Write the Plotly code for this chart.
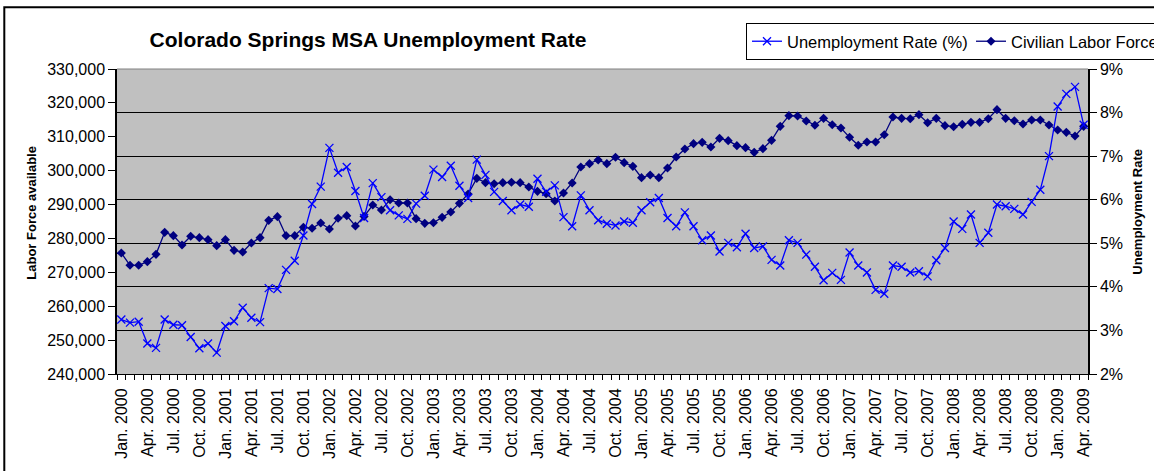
import plotly.graph_objects as go

month_names = ["Jan.", "Feb.", "Mar.", "Apr.", "May", "Jun.", "Jul.", "Aug.", "Sep.", "Oct.", "Nov.", "Dec."]
years = [2000, 2001, 2002, 2003, 2004, 2005, 2006, 2007, 2008, 2009]
months = [f"{m} {y}" for y in years for m in month_names][:112]  # Jan. 2000 .. Apr. 2009

unemployment_rate = [
    3.25, 3.18, 3.20, 2.70, 2.60, 3.25, 3.13, 3.12, 2.85, 2.59, 2.70, 2.49,
    3.10, 3.21, 3.52, 3.29, 3.19, 3.97, 3.95, 4.39, 4.60, 5.18, 5.90, 6.30,
    7.19, 6.62, 6.75, 6.20, 5.58, 6.38, 6.06, 5.76, 5.64, 5.56, 5.91, 6.09,
    6.69, 6.52, 6.78, 6.32, 6.04, 6.92, 6.57, 6.18, 5.97, 5.76, 5.89, 5.84,
    6.48, 6.18, 6.33, 5.60, 5.39, 6.10, 5.76, 5.53, 5.45, 5.41, 5.50, 5.47,
    5.76, 5.94, 6.04, 5.58, 5.39, 5.71, 5.39, 5.07, 5.18, 4.81, 5.01, 4.91,
    5.22, 4.89, 4.93, 4.62, 4.49, 5.07, 5.01, 4.74, 4.46, 4.15, 4.32, 4.16,
    4.79, 4.49, 4.33, 3.93, 3.84, 4.49, 4.46, 4.33, 4.36, 4.24, 4.61, 4.89,
    5.50, 5.33, 5.66, 5.01, 5.24, 5.89, 5.85, 5.79, 5.66, 5.95, 6.23, 7.00,
    8.14, 8.43, 8.59, 7.72,
]

labor_force = [
    275700, 272070, 272070, 273150, 275310, 281800, 280820, 278070, 280630, 280230, 279640, 277870,
    279640, 276490, 276000, 278660, 280230, 285340, 286430, 280820, 280820, 283280, 283000, 284560,
    282790, 285940, 286720, 283670, 286500, 289870, 288400, 291440, 290460, 290460, 285840, 284460,
    284650, 286230, 287800, 290360, 293120, 297740, 296460, 296160, 296460, 296560, 296460, 295180,
    293900, 293210, 291050, 293410, 296360, 301080, 302070, 303150, 302070, 303940, 302360, 301280,
    297940, 298720, 297940, 300790, 304030, 306390, 307970, 308360, 306980, 309540, 308850, 307380,
    306790, 305410, 306490, 308950, 313080, 316230, 316130, 314660, 313380, 315440, 313570, 312590,
    309840, 307480, 308460, 308460, 310620, 315840, 315440, 315340, 316530, 314160, 315440, 313280,
    312980, 313670, 314260, 314260, 315340, 318000, 315440, 314750, 313770, 314950, 314950, 313480,
    312000, 311310, 310230, 313080,
]

x_idx = list(range(len(months)))
tick_idx = x_idx[::3]
tick_text = months[::3]

FONT = "Liberation Sans, Arial, sans-serif"

fig = go.Figure()
fig.add_trace(go.Scatter(
    x=x_idx, y=unemployment_rate, name="Unemployment Rate (%)", yaxis="y2",
    mode="lines+markers",
    line=dict(color="#0000FF", width=1.3),
    marker=dict(symbol="x-thin", size=8, line=dict(color="#0000FF", width=1.3), color="#0000FF"),
    text=months, hovertemplate="%{text}: %{y}%<extra></extra>",
))
fig.add_trace(go.Scatter(
    x=x_idx, y=labor_force, name="Civilian Labor Force", yaxis="y",
    mode="lines+markers",
    line=dict(color="#000080", width=1.3),
    marker=dict(symbol="diamond", size=7, color="#000080"),
    text=months, hovertemplate="%{text}: %{y:,}<extra></extra>",
))

fig.update_layout(
    width=1154, height=471,
    margin=dict(l=117, r=66, t=69, b=97, autoexpand=False),
    paper_bgcolor="white",
    plot_bgcolor="#C0C0C0",
    font=dict(family=FONT, size=16, color="black"),
    title=dict(
        text="Colorado Springs MSA Unemployment Rate",
        font=dict(family=FONT, size=21, color="black", weight="bold"),
        xref="container", yref="container",
        x=368 / 1154, xanchor="center",
        y=1 - 40 / 471, yanchor="middle",
    ),
    xaxis=dict(
        range=[-0.5, len(months) - 0.5],
        tickmode="array", tickvals=tick_idx, ticktext=tick_text,
        tickangle=-90, ticks="", showgrid=False, zeroline=False,
        showline=True, linecolor="black", linewidth=1,
        ticklabelstandoff=7,
        tickfont=dict(family=FONT, size=16, color="black"),
        minor=dict(tickmode="linear", tick0=-0.5, dtick=1, ticks="outside",
                   ticklen=5, tickcolor="black", tickwidth=1, showgrid=False),
    ),
    yaxis=dict(
        range=[240000, 330000], dtick=10000, tickformat=",d",
        showgrid=False, zeroline=False,
        showline=True, linecolor="black", linewidth=1.5,
        ticks="outside", ticklen=7, tickcolor="black", tickwidth=1,
        tickfont=dict(family=FONT, size=16, color="black"),
    ),
    yaxis2=dict(
        range=[2, 9], dtick=1, ticksuffix="%",
        overlaying="y", side="right",
        showgrid=True, gridcolor="black", gridwidth=1, zeroline=False,
        showline=True, linecolor="black", linewidth=1.5,
        ticks="outside", ticklen=7, tickcolor="black", tickwidth=1,
        tickfont=dict(family=FONT, size=16, color="black"),
    ),
    legend=dict(
        orientation="h",
        x=(746 - 117) / 971, xanchor="left",
        y=(374 - 23) / 305, yanchor="top",
        bgcolor="white", bordercolor="black", borderwidth=1,
        font=dict(family=FONT, size=16.5, color="black"),
        itemwidth=30, tracegroupgap=0,
        entrywidth=179, entrywidthmode="pixels",
    ),
    showlegend=True,
    annotations=[
        dict(text="Labor Force available", xref="paper", yref="paper",
             x=(30.7 - 117) / 971, y=(374 - 213) / 305, textangle=-90,
             showarrow=False, xanchor="center", yanchor="middle",
             font=dict(family=FONT, size=13, color="black", weight="bold")),
        dict(text="Unemployment Rate", xref="paper", yref="paper",
             x=(1138 - 117) / 971, y=(374 - 211.7) / 305, textangle=-90,
             showarrow=False, xanchor="center", yanchor="middle",
             font=dict(family=FONT, size=13, color="black", weight="bold")),
    ],
    shapes=[
        dict(type="line", xref="paper", yref="paper", x0=0, x1=1, y0=1, y1=1,
             line=dict(color="#808080", width=1)),
        dict(type="rect", xref="paper", yref="paper",
             x0=(4.3 - 117) / 971, x1=(1170 - 117) / 971,
             y0=(374 - 490) / 305, y1=(374 - 7.3) / 305,
             line=dict(color="black", width=2), fillcolor="rgba(0,0,0,0)", layer="above"),
    ],
)

fig.write_html("out.html", config={"displayModeBar": False},
               post_script="document.body.style.margin='0px';")
